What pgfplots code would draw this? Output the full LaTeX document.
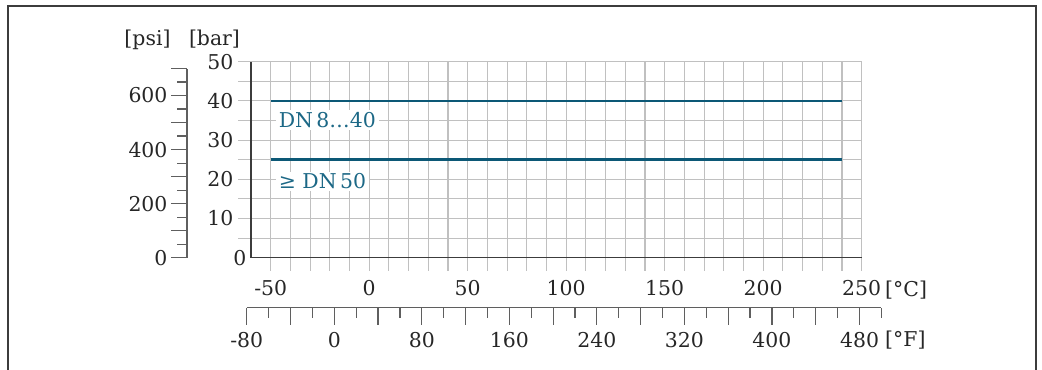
\documentclass[border=0pt]{standalone}
\usepackage{pgfplots}
\pgfplotsset{compat=1.18}
\usepackage{fontspec}
\setmainfont{DejaVu Serif}
\definecolor{gridgray}{RGB}{192,192,192}
\definecolor{axisgray}{RGB}{60,60,60}
\definecolor{scalegray}{RGB}{95,95,95}
\definecolor{dnline}{RGB}{12,88,118}
\definecolor{dntext}{RGB}{28,104,134}
\newcommand{\fs}{\fontsize{20.5}{24}\selectfont}
\begin{document}
\begin{tikzpicture}[x=1bp,y=1bp]
\useasboundingbox (0,0) rectangle (1042,-369);
% frame
\draw[line width=1.4bp, axisgray] (8,-372) -- (8,-6) -- (1036,-6) -- (1036,-372);
% main axis (bar vs degC)
\begin{axis}[
  at={(251bp,-257.7bp)}, anchor=south west,
  scale only axis, width=610.7bp, height=196bp,
  xmin=-60, xmax=250, ymin=0, ymax=50,
  axis lines*=left,
  axis line style={draw=axisgray, line width=1.3bp},
  xtick={-50,0,...,250},
  minor xtick={-40,-30,-20,-10,10,20,30,40,60,70,80,90,110,120,130,140,160,170,180,190,210,220,230,240},
  xticklabels={-50,0,50,100,150,200,250},
  ytick={10,20,...,50}, minor ytick={5,15,...,45},
  yticklabels={10,20,30,40,50},
  extra y ticks={0}, extra y tick labels={0},
  extra y tick style={major tick length=0pt, grid=none},
  grid=both,
  major grid style={draw=gridgray, line width=1.1bp},
  minor grid style={draw=gridgray, line width=1.1bp},
  tick align=outside,
  major tick length=13bp, minor tick length=13bp,
  tick style={draw=gridgray, line width=1.1bp},
  every tick label/.append style={font=\fs, text=black!85},
  xticklabel style={yshift=-6bp},
  yticklabel style={xshift=-1bp},
  clip=false,
]
\addplot[dnline, line width=2.6bp] coordinates {(-50,40) (240,40)};
\addplot[dnline, line width=2.6bp] coordinates {(-50,25) (240,25)};
\node[anchor=west, fill=white, inner xsep=3bp, inner ysep=2bp, text=dntext, font=\fs] at (axis cs:-47.5,35.1) {DN\,8…40};
\node[anchor=west, fill=white, inner xsep=3bp, inner ysep=2bp, text=dntext, font=\fs] at (axis cs:-47.5,19.5) {≥ DN\,50};
\end{axis}
% psi axis
\begin{axis}[
  at={(187bp,-257.7bp)}, anchor=south west,
  scale only axis, width=1bp, height=189.2bp,
  xmin=0, xmax=1, ymin=0, ymax=700,
  hide x axis, axis lines*=left,
  axis line style={draw=scalegray, line width=1.3bp},
  ytick={0,100,...,700}, minor ytick={50,150,...,650},
  yticklabels={0,,200,,400,,600,},
  tick align=outside,
  major tick length=16bp, minor tick length=10bp,
  tick style={draw=scalegray, line width=1.2bp},
  every tick label/.append style={font=\fs, text=black!85},
]
\end{axis}
% degF axis
\begin{axis}[
  at={(246.7bp,-307.7bp)}, anchor=south west,
  scale only axis, width=634.7bp, height=1bp,
  xmin=-80, xmax=500, ymin=0, ymax=1,
  hide y axis, axis lines*=left,
  axis line style={draw=scalegray, line width=1.3bp},
  xtick={-80,-40,...,480}, minor xtick={-60,-20,...,500},
  xticklabels={-80,,0,,80,,160,,240,,320,,400,,480},
  tick align=outside,
  major tick length=17bp, minor tick length=10bp,
  tick style={draw=scalegray, line width=1.2bp},
  every tick label/.append style={font=\fs, text=black!85},
  xticklabel style={yshift=-4bp},
]
\end{axis}
% unit labels
\node[anchor=base, font=\fs, text=black!85] at (147.5,-45) {[psi]};
\node[anchor=base, font=\fs, text=black!85] at (214.5,-45) {[bar]};
\node[anchor=base west, inner xsep=0pt, font=\fs, text=black!85] at (885,-296.7) {[°C]};
\node[anchor=base west, inner xsep=0pt, font=\fs, text=black!85] at (885,-346.7) {[°F]};
\end{tikzpicture}
\end{document}
